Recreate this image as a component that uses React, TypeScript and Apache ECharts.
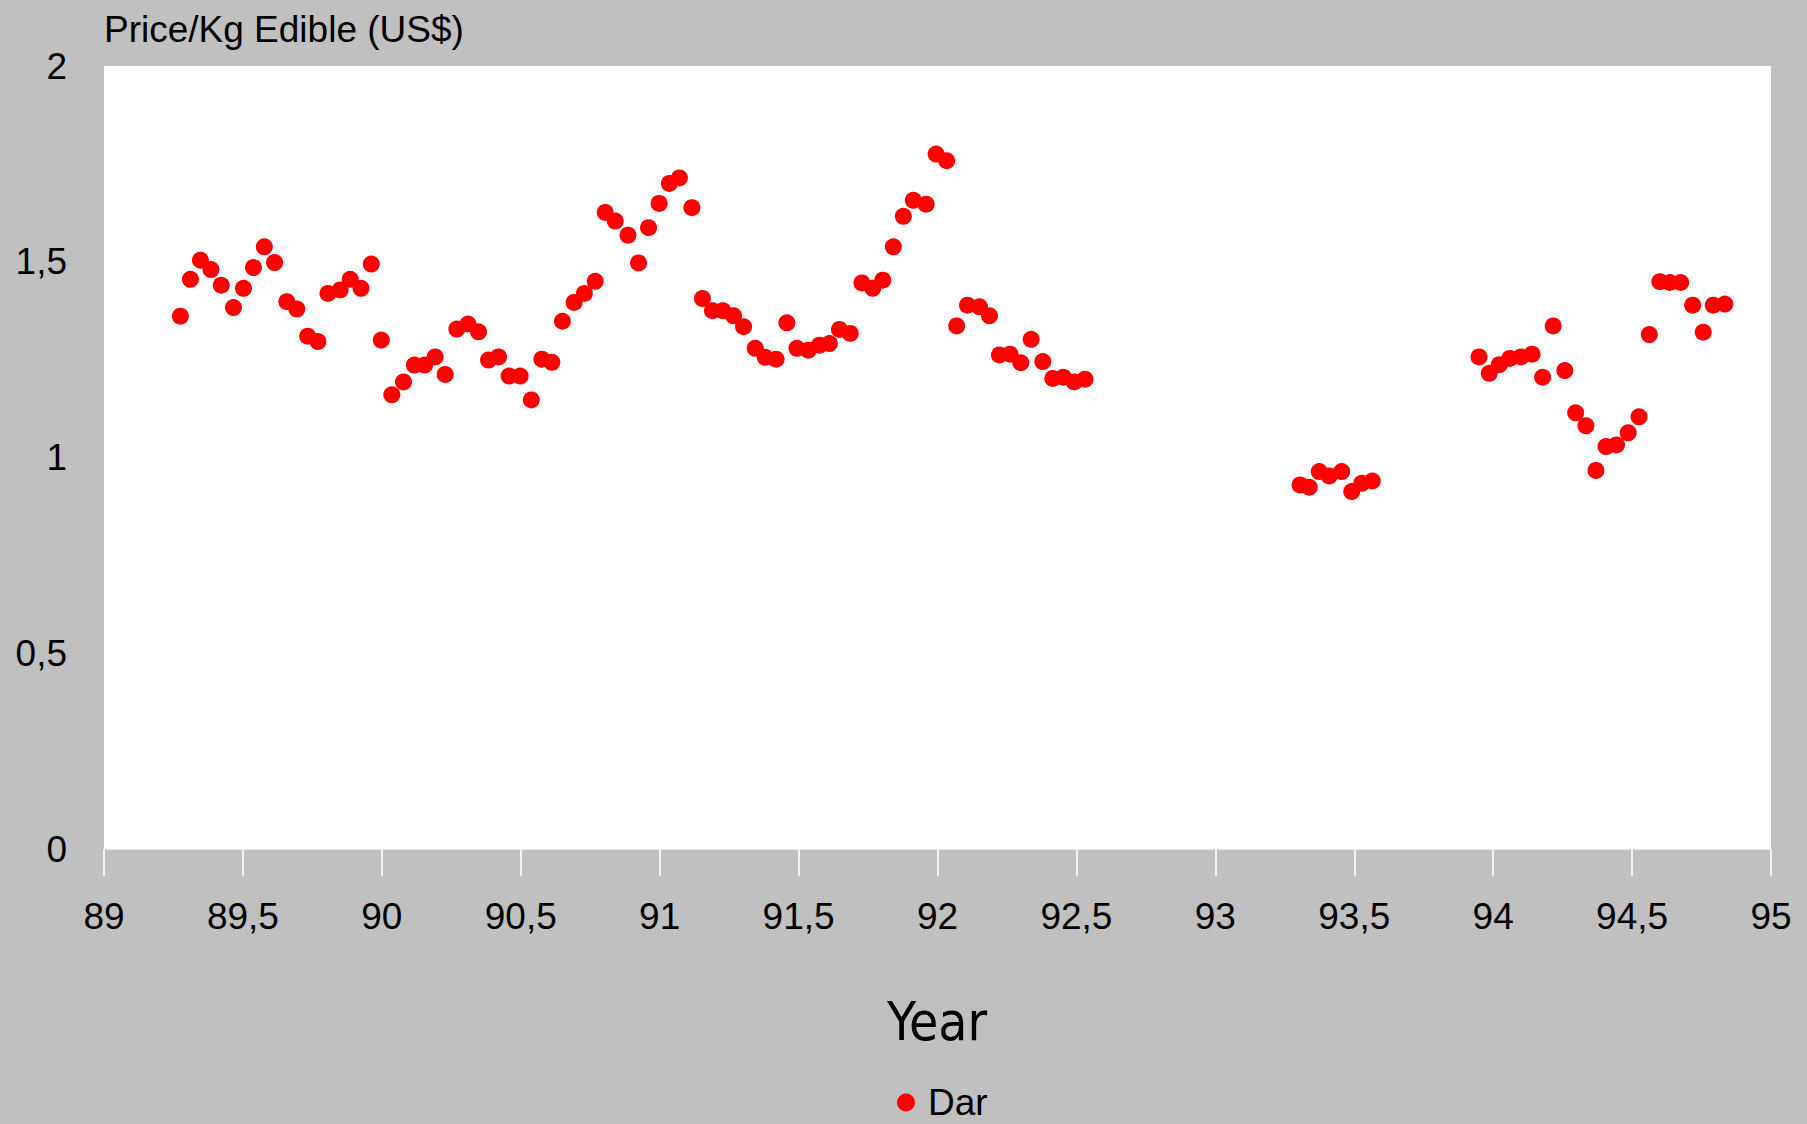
import React, { useEffect, useRef } from "react";
import * as echarts from "echarts";

const seriesName = "Dar";
const titleText = "Price/Kg Edible (US$)";
const xAxisTitle = "Year";

const xTicks = { min: 89, max: 95, interval: 0.5 };
const yTicks = { min: 0, max: 2, interval: 0.5 };

const years1 = [
  89.275, 89.311, 89.347, 89.385, 89.422, 89.466, 89.502, 89.538, 89.577, 89.614,
  89.658, 89.694, 89.733, 89.770, 89.806, 89.850, 89.886, 89.925, 89.962, 89.998,
  90.036, 90.078, 90.117, 90.154, 90.192, 90.228, 90.270, 90.310, 90.348, 90.384,
  90.420, 90.458, 90.498, 90.538, 90.576, 90.612, 90.650, 90.692, 90.729, 90.768,
  90.804, 90.840, 90.886, 90.924, 90.960, 90.998, 91.035, 91.071, 91.116, 91.154,
  91.190, 91.227, 91.266, 91.302, 91.344, 91.380, 91.419, 91.458, 91.494, 91.535,
  91.575, 91.611, 91.647, 91.686, 91.728, 91.767, 91.803, 91.841, 91.877, 91.913,
  91.959, 91.995, 92.033, 92.069, 92.108, 92.151, 92.187, 92.223, 92.261, 92.300,
  92.337, 92.379, 92.415, 92.453, 92.492, 92.531,
];
const prices1 = [
  1.361, 1.455, 1.504, 1.480, 1.440, 1.383, 1.432, 1.485, 1.538, 1.498,
  1.398, 1.379, 1.310, 1.296, 1.419, 1.428, 1.455, 1.432, 1.494, 1.300,
  1.160, 1.193, 1.236, 1.236, 1.257, 1.212, 1.328, 1.341, 1.321, 1.249,
  1.257, 1.208, 1.208, 1.147, 1.251, 1.243, 1.348, 1.396, 1.419, 1.450,
  1.626, 1.604, 1.568, 1.497, 1.587, 1.649, 1.700, 1.714, 1.638, 1.406,
  1.375, 1.375, 1.362, 1.334, 1.279, 1.256, 1.251, 1.344, 1.279, 1.274,
  1.287, 1.291, 1.327, 1.317, 1.446, 1.432, 1.453, 1.538, 1.616, 1.657,
  1.647, 1.775, 1.758, 1.336, 1.389, 1.385, 1.362, 1.262, 1.264, 1.242,
  1.302, 1.245, 1.202, 1.205, 1.193, 1.200,
];

const years2 = [93.305, 93.338, 93.374, 93.410, 93.455, 93.491, 93.527, 93.565];
const prices2 = [0.930, 0.924, 0.964, 0.953, 0.964, 0.913, 0.934, 0.940];

const years3 = [
  93.949, 93.986, 94.022, 94.060, 94.100, 94.140, 94.178, 94.216, 94.258, 94.297,
  94.334, 94.370, 94.406, 94.444, 94.486, 94.525, 94.562, 94.600, 94.636, 94.675,
  94.718, 94.756, 94.792, 94.834,
];
const prices3 = [
  1.257, 1.215, 1.237, 1.253, 1.257, 1.264, 1.205, 1.336, 1.222, 1.114,
  1.081, 0.967, 1.028, 1.032, 1.063, 1.104, 1.314, 1.449, 1.447, 1.447,
  1.389, 1.320, 1.389, 1.392,
];

const FONT = "'Liberation Sans', Arial, Helvetica, sans-serif";
const NARROW = "'Liberation Sans Narrow', 'Arial Narrow', 'DejaVu Sans Condensed', 'Liberation Sans', Arial, sans-serif";

const fmt = (v: number) => String(v).replace(".", ",");

export default function App() {
  const ref = useRef<HTMLDivElement>(null);
  useEffect(() => {
    document.body.style.margin = "0";
    const chart = echarts.init(ref.current!, null, { renderer: "svg" });
    const pairs: number[][] = [];
    [
      [years1, prices1],
      [years2, prices2],
      [years3, prices3],
    ].forEach(([ys, ps]) => ys.forEach((y, i) => pairs.push([y, ps[i]])));

    chart.setOption({
      animation: false,
      backgroundColor: "#c0c0c0",
      textStyle: { fontFamily: FONT, color: "#000" },
      grid: {
        left: 104,
        right: 36,
        top: 66,
        bottom: 275,
        show: true,
        backgroundColor: "#ffffff",
        borderWidth: 0,
      },
      xAxis: {
        type: "value",
        min: xTicks.min,
        max: xTicks.max,
        interval: xTicks.interval,
        axisLine: { show: true, lineStyle: { color: "#e6e6e6", width: 1 } },
        axisTick: { show: true, length: 27, lineStyle: { color: "#f2f2f2", width: 2 } },
        splitLine: { show: false },
        axisLabel: {
          fontSize: 37,
          color: "#000",
          fontFamily: FONT,
          margin: 49,
          formatter: (v: number) => fmt(v),
        },
      },
      yAxis: {
        type: "value",
        min: yTicks.min,
        max: yTicks.max,
        interval: yTicks.interval,
        axisLine: { show: false },
        axisTick: { show: false },
        splitLine: { show: false },
        axisLabel: {
          fontSize: 37,
          color: "#000",
          fontFamily: FONT,
          margin: 37,
          padding: [7, 0, 0, 0],
          formatter: (v: number) => fmt(v),
        },
      },
      legend: {
        show: true,
        left: 897,
        top: 1084,
        padding: 0,
        icon: "circle",
        itemWidth: 18,
        itemHeight: 18,
        textStyle: { fontSize: 37, color: "#000", fontFamily: FONT, padding: [0, 0, 0, 8] },
        data: [seriesName],
      },
      graphic: [
        {
          type: "text",
          x: 104,
          y: 29,
          style: {
            text: titleText,
            font: `37px ${FONT}`,
            fill: "#000",
            align: "left",
            verticalAlign: "middle",
          },
        },
        {
          type: "text",
          x: 937,
          y: 1021,
          style: {
            text: xAxisTitle,
            font: `53px ${NARROW}`,
            fill: "#000",
            align: "center",
            verticalAlign: "middle",
          },
        },
      ],
      series: [
        {
          name: seriesName,
          type: "scatter",
          symbol: "circle",
          symbolSize: 17,
          itemStyle: { color: "#ff0000", opacity: 1 },
          data: pairs,
        },
      ],
    });
    return () => chart.dispose();
  }, []);
  return (
    <div
      ref={ref}
      style={{ position: "absolute", left: 0, top: 0, width: 1807, height: 1124 }}
    />
  );
}
